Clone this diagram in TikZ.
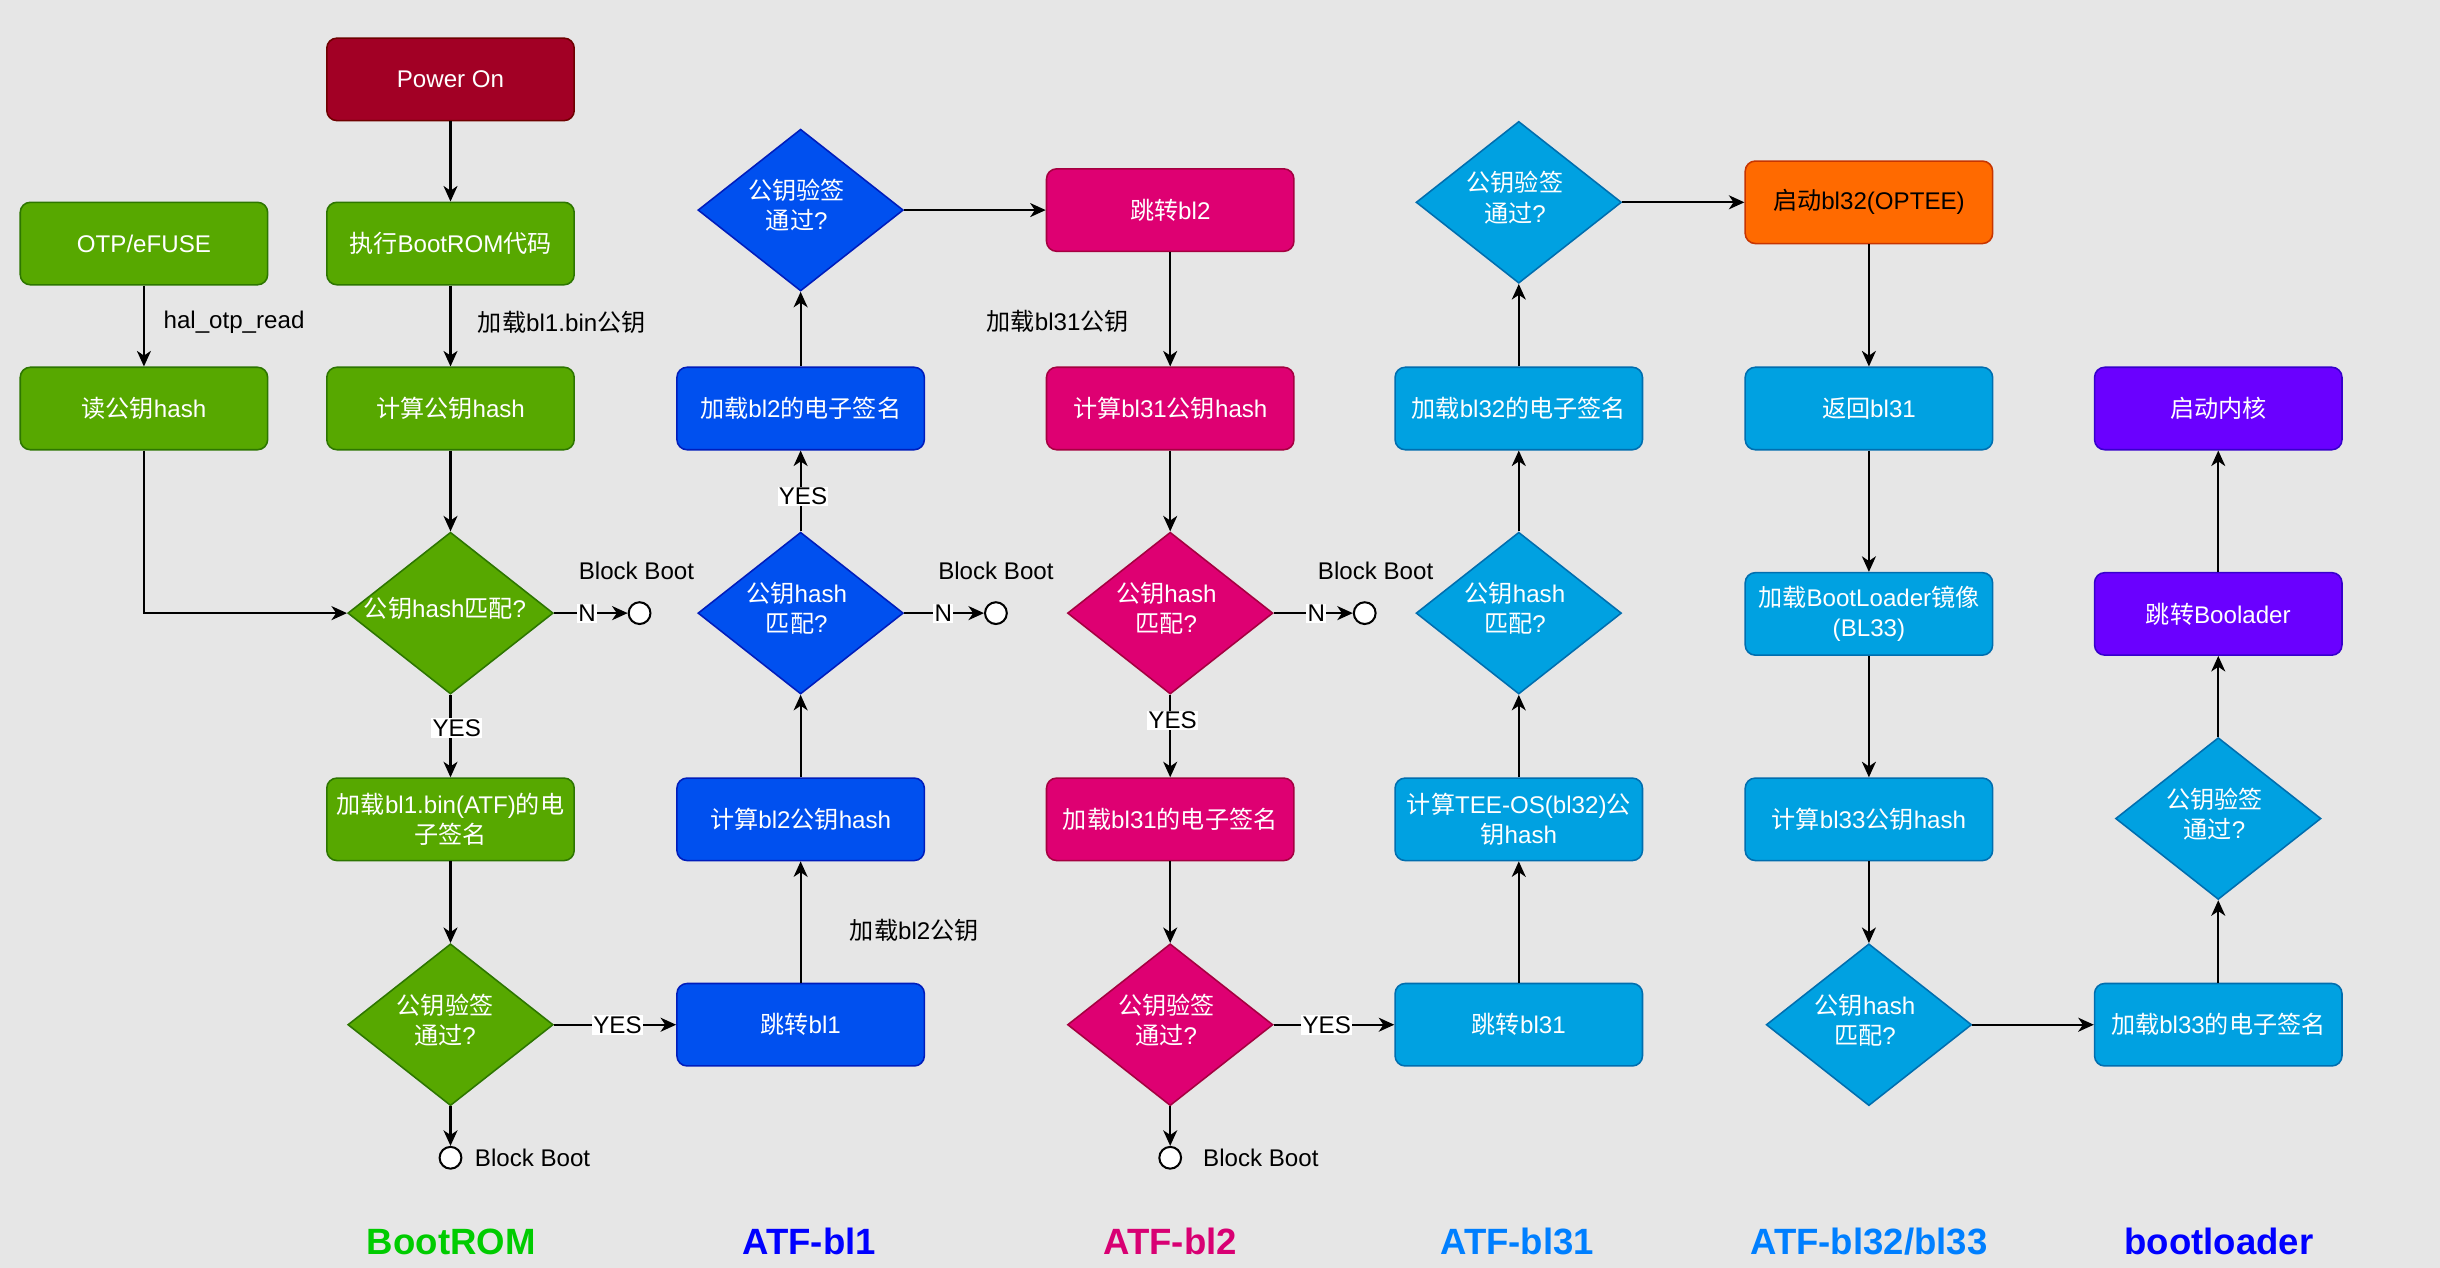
\documentclass[tikz,border=0pt]{standalone}
\usepackage{fontspec}
\setmainfont{Liberation Sans}
\newfontfamily\cjk{Noto Sans CJK SC}
\newcommand\C[1]{{\cjk #1}}
\newcommand\fs{\fontsize{15.5}{19.5}\selectfont}
\usetikzlibrary{shapes.geometric,arrows.meta}
\definecolor{bg}{HTML}{E6E6E6}
\definecolor{cG}{HTML}{57A800}
\definecolor{cGd}{HTML}{2D7600}
\definecolor{cR}{HTML}{A20025}
\definecolor{cRd}{HTML}{6F0000}
\definecolor{cB}{HTML}{0050EF}
\definecolor{cBd}{HTML}{001DBC}
\definecolor{cM}{HTML}{DE0072}
\definecolor{cMd}{HTML}{A50040}
\definecolor{cL}{HTML}{00A1E1}
\definecolor{cLd}{HTML}{006EAF}
\definecolor{cO}{HTML}{FF6A00}
\definecolor{cOd}{HTML}{C73500}
\definecolor{cP}{HTML}{6A00FF}
\definecolor{cPd}{HTML}{3700CC}
\definecolor{tG}{HTML}{00CC00}
\definecolor{tB}{HTML}{0000FF}
\definecolor{tM}{HTML}{D80073}
\definecolor{tL}{HTML}{007FFF}
\begin{document}
\begin{tikzpicture}[x=1pt,y=-1pt,
  box/.style={rectangle, rounded corners=6.5pt, minimum width=159pt, minimum height=53pt,
    line width=1pt, align=center, text=white, font=\fs, inner sep=1pt},
  gbox/.style={box, fill=cG, draw=cGd},
  rbox/.style={box, fill=cR, draw=cRd},
  bbox/.style={box, fill=cB, draw=cBd},
  mbox/.style={box, fill=cM, draw=cMd},
  lbox/.style={box, fill=cL, draw=cLd},
  obox/.style={box, fill=cO, draw=cOd, text=black},
  pbox/.style={box, fill=cP, draw=cPd},
  dia/.style={diamond, minimum width=132pt, minimum height=104pt, inner sep=0pt, line width=1pt},
  gdia/.style={dia, fill=cG, draw=cGd},
  bdia/.style={dia, fill=cB, draw=cBd},
  mdia/.style={dia, fill=cM, draw=cMd},
  ldia/.style={dia, fill=cL, draw=cLd},
  dtxt/.style={text=white, align=center, font=\fs, inner sep=0pt},
  arr/.style={draw, line width=1.3pt, -{Stealth[length=10pt,width=9pt,inset=3pt]}},
  lab/.style={fill=white, inner sep=0.8pt, font=\fs, text=black},
  elab/.style={font=\fs, text=black, inner sep=1pt},
  endc/.style={circle, draw=black, fill=white, minimum size=14pt, inner sep=0pt, line width=1.3pt},
  ttl/.style={font=\fontsize{23.5}{28}\selectfont\bfseries, inner sep=0pt}
]
\path[use as bounding box, fill=bg] (0,0) rectangle (1568,814.8);

% ---------------- BootROM ----------------
\node[rbox] (pw) at (289.5,51) {Power On};
\node[gbox] (otp) at (92.5,156.5) {OTP/eFUSE};
\node[gbox] (ex) at (289.5,156.5) {\C{执行}BootROM\C{代码}};
\node[gbox] (rd) at (92.5,262.5) {\C{读公钥}hash};
\node[gbox] (ch) at (289.5,262.5) {\C{计算公钥}hash};
\node[gdia] (d1) at (289.5,394) {};
\node[dtxt] at (286,391) {\C{公钥}hash\C{匹配}?};
\node[gbox] (s1) at (289.5,526.5) {\C{加载}bl1.bin(ATF)\C{的电}\\\C{子签名}};
\node[gdia] (d2) at (289.5,658.5) {};
\node[dtxt] at (286,655.5) {\C{公钥验签}\\\C{通过}?};
\node[endc] (c1) at (411,394) {};
\node[endc] (c2) at (289.5,744) {};
\node[elab] (bb1) at (409,367) {Block Boot};
\node[elab, anchor=west] (bb2) at (304,744) {Block Boot};

% ---------------- ATF-bl1 ----------------
\node[bdia] (d4) at (514.5,135) {};
\node[dtxt] at (512,132) {\C{公钥验签}\\\C{通过}?};
\node[bbox] (s2) at (514.5,262.5) {\C{加载}bl2\C{的电子签名}};
\node[bdia] (d3) at (514.5,394) {};
\node[dtxt] at (512,391) {\C{公钥}hash\\\C{匹配}?};
\node[bbox] (h2) at (514.5,526.5) {\C{计算}bl2\C{公钥}hash};
\node[bbox] (j1) at (514.5,658.5) {\C{跳转}bl1};
\node[endc] (c3) at (640,394) {};
\node[elab] (bb3) at (640,367) {Block Boot};

% ---------------- ATF-bl2 ----------------
\node[mbox] (j2) at (752,135) {\C{跳转}bl2};
\node[mbox] (h31) at (752,262.5) {\C{计算}bl31\C{公钥}hash};
\node[mdia] (d5) at (752,394) {};
\node[dtxt] at (749.5,391) {\C{公钥}hash\\\C{匹配}?};
\node[mbox] (s31) at (752,526.5) {\C{加载}bl31\C{的电子签名}};
\node[mdia] (d6) at (752,658.5) {};
\node[dtxt] at (749.5,655.5) {\C{公钥验签}\\\C{通过}?};
\node[endc] (c4) at (877,394) {};
\node[endc] (c5) at (752,744) {};
\node[elab] (bb4) at (884,367) {Block Boot};
\node[elab, anchor=west] (bb5) at (772,744) {Block Boot};

% ---------------- ATF-bl31 ----------------
\node[ldia] (d8) at (976,130) {};
\node[dtxt] at (973.5,127) {\C{公钥验签}\\\C{通过}?};
\node[lbox] (s32) at (976,262.5) {\C{加载}bl32\C{的电子签名}};
\node[ldia] (d7) at (976,394) {};
\node[dtxt] at (973.5,391) {\C{公钥}hash\\\C{匹配}?};
\node[lbox] (tee) at (976,526.5) {\C{计算}TEE-OS(bl32)\C{公}\\\C{钥}hash};
\node[lbox] (j31) at (976,658.5) {\C{跳转}bl31};

% ---------------- ATF-bl32/bl33 ----------------
\node[obox] (op) at (1201,130) {\C{启动}bl32(OPTEE)};
\node[lbox] (ret) at (1201,262.5) {\C{返回}bl31};
\node[lbox] (ld) at (1201,394.5) {\C{加载}BootLoader\C{镜像}\\(BL33)};
\node[lbox] (h33) at (1201,526.5) {\C{计算}bl33\C{公钥}hash};
\node[ldia] (d9) at (1201,658.5) {};
\node[dtxt] at (1198.5,655.5) {\C{公钥}hash\\\C{匹配}?};

% ---------------- bootloader ----------------
\node[pbox] (kn) at (1425.5,262.5) {\C{启动内核}};
\node[pbox] (jb) at (1425.5,394.5) {\C{跳转}Boolader};
\node[ldia] (d10) at (1425.5,526) {};
\node[dtxt] at (1423,523) {\C{公钥验签}\\\C{通过}?};
\node[lbox] (s33) at (1425.5,658.5) {\C{加载}bl33\C{的电子签名}};

% ---------------- titles ----------------
\node[ttl, text=tG] (t1) at (290,798) {BootROM};
\node[ttl, text=tB] (t2) at (520,798) {ATF-bl1};
\node[ttl, text=tM] (t3) at (752,798) {ATF-bl2};
\node[ttl, text=tL] (t4) at (975,798) {ATF-bl31};
\node[ttl, text=tL] (t5) at (1201,798) {ATF-bl32/bl33};
\node[ttl, text=tB] (t6) at (1426,798) {bootloader};

% ---------------- connectors ----------------
\draw[arr] (pw) -- (ex);
\draw[arr] (otp) -- node[elab, pos=0.45, anchor=west, xshift=11pt] {hal\_otp\_read} (rd);
\draw[arr] (ex) -- node[elab, pos=0.45, anchor=west, xshift=16pt] {\C{加载}bl1.bin\C{公钥}} (ch);
\draw[arr] (rd.south) |- (d1.west);
\draw[arr] (ch) -- (d1);
\draw[arr] (d1) -- node[lab, pos=0.45] {N} (c1);
\draw[arr] (d1) -- node[lab, pos=0.4, xshift=4pt] {YES} (s1);
\draw[arr] (s1) -- (d2);
\draw[arr] (d2) -- node[lab, pos=0.52] {YES} (j1);
\draw[arr] (d2) -- (c2);

\draw[arr] (j1) -- node[elab, pos=0.43, anchor=west, xshift=30pt] {\C{加载}bl2\C{公钥}} (h2);
\draw[arr] (h2) -- (d3);
\draw[arr] (d3) -- node[lab, pos=0.49] {N} (c3);
\draw[arr] (d3) -- node[lab, pos=0.43, xshift=1.5pt] {YES} (s2);
\draw[arr] (s2) -- (d4);
\draw[arr] (d4) -- (j2);

\draw[arr] (j2) -- node[elab, pos=0.61, anchor=east, xshift=-25pt] {\C{加载}bl31\C{公钥}} (h31);
\draw[arr] (h31) -- (d5);
\draw[arr] (d5) -- node[lab, pos=0.54] {N} (c4);
\draw[arr] (d5) -- node[lab, pos=0.31, xshift=1.5pt] {YES} (s31);
\draw[arr] (s31) -- (d6);
\draw[arr] (d6) -- (c5);
\draw[arr] (d6) -- node[lab, pos=0.44] {YES} (j31);

\draw[arr] (j31) -- (tee);
\draw[arr] (tee) -- (d7);
\draw[arr] (d7) -- (s32);
\draw[arr] (s32) -- (d8);
\draw[arr] (d8) -- (op);

\draw[arr] (op) -- (ret);
\draw[arr] (ret) -- (ld);
\draw[arr] (ld) -- (h33);
\draw[arr] (h33) -- (d9);
\draw[arr] (d9) -- (s33);

\draw[arr] (s33) -- (d10);
\draw[arr] (d10) -- (jb);
\draw[arr] (jb) -- (kn);
\end{tikzpicture}
\end{document}
